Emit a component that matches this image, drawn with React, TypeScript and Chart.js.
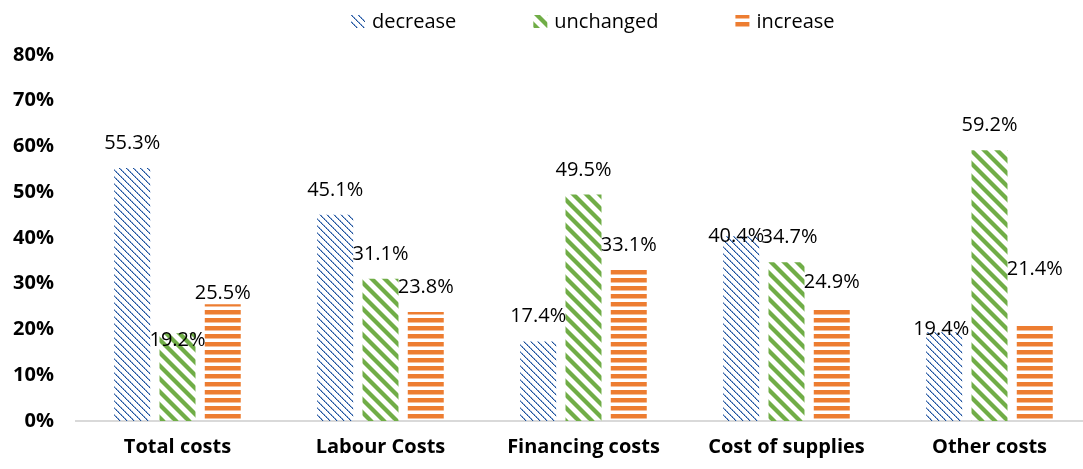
import React, { useEffect, useRef } from 'react';
import { Chart, registerables } from 'chart.js';

Chart.register(...registerables);

const categories = ['Total costs', 'Labour Costs', 'Financing costs', 'Cost of supplies', 'Other costs'];
const seriesNames = ['decrease', 'unchanged', 'increase'];
const decreaseValues = [55.3, 45.1, 17.4, 40.4, 19.4];
const unchangedValues = [19.2, 31.1, 49.5, 34.7, 59.2];
const increaseValues = [25.5, 23.8, 33.1, 24.9, 21.4];
const yTickMax = 80;
const yTickStep = 10;

// nudges (px) of individual data labels, as placed in the original
const labelShiftDecrease = [0, 0, 0, 25, 22];
const labelShiftUnchanged = [32, 0, 0, 0, 0];
const labelShiftIncrease = [14, 0, 0, 0, -29];
const labelShifts = [labelShiftDecrease, labelShiftUnchanged, labelShiftIncrease];
const labelDxDecrease = [0, 0, 0, -5, -3];
const labelDxUnchanged = [0, 0, 0, 3, 0];
const labelDxIncrease = [0, 0, 0, 0, 0];
const labelDx = [labelDxDecrease, labelDxUnchanged, labelDxIncrease];

const FONT = '"Open Sans", "DejaVu Sans", sans-serif';

function makeDecreasePattern(ctx0: CanvasRenderingContext2D) {
  const n = 7;
  const c = document.createElement('canvas');
  c.width = n;
  c.height = n;
  const ctx = c.getContext('2d')!;
  for (let i = 0; i < n; i++) {
    ctx.fillStyle = i % 2 === 0 ? '#1F4E91' : '#3E6DB3';
    ctx.fillRect(i, i, 1, 1);
    ctx.fillStyle = i % 2 === 0 ? '#A9C0E2' : '#7397CD';
    ctx.fillRect((i + 1) % n, i, 1, 1);
  }
  return ctx0.createPattern(c, 'repeat')!;
}

function makeUnchangedPattern(ctx0: CanvasRenderingContext2D) {
  const n = 13;
  const c = document.createElement('canvas');
  c.width = n;
  c.height = n;
  const ctx = c.getContext('2d')!;
  for (let y = 0; y < n; y++) {
    for (let x = 0; x < n; x++) {
      const d = (((x - y) % n) + n) % n;
      if (d < 5) {
        ctx.fillStyle = '#70AD47';
        ctx.fillRect(x, y, 1, 1);
      } else if (d === 5 || d === n - 1) {
        ctx.fillStyle = '#B5D69F';
        ctx.fillRect(x, y, 1, 1);
      }
    }
  }
  return ctx0.createPattern(c, 'repeat')!;
}

function makeIncreasePattern(ctx0: CanvasRenderingContext2D) {
  const c = document.createElement('canvas');
  c.width = 8;
  c.height = 8;
  const ctx = c.getContext('2d')!;
  ctx.fillStyle = '#ED7D31';
  ctx.fillRect(0, 0, 8, 2);
  ctx.fillRect(0, 6, 8, 2);
  ctx.fillStyle = '#F6BE98';
  ctx.fillRect(0, 2, 8, 1);
  return ctx0.createPattern(c, 'repeat')!;
}

const dataLabelPlugin = {
  id: 'dataLabels',
  afterDatasetsDraw(chart: any) {
    const ctx = chart.ctx as CanvasRenderingContext2D;
    ctx.save();
    ctx.font = `20px ${FONT}`;
    ctx.fillStyle = '#000000';
    ctx.textAlign = 'center';
    ctx.textBaseline = 'alphabetic';
    chart.data.datasets.forEach((ds: any, di: number) => {
      const meta = chart.getDatasetMeta(di);
      meta.data.forEach((el: any, i: number) => {
        const v = ds.data[i] as number;
        ctx.fillText(v.toFixed(1) + '%', el.x + labelDx[di][i], el.y - 19 + labelShifts[di][i]);
      });
    });
    ctx.restore();
  },
};

const legendPlugin = {
  id: 'customLegend',
  afterDraw(chart: any) {
    const ctx = chart.ctx as CanvasRenderingContext2D;
    ctx.save();
    ctx.font = `20px ${FONT}`;
    ctx.textAlign = 'left';
    ctx.textBaseline = 'alphabetic';
    let x = 351;
    chart.data.datasets.forEach((ds: any) => {
      ctx.fillStyle = ds.backgroundColor;
      ctx.fillRect(x, 15, 14, 13);
      ctx.fillStyle = '#000000';
      ctx.fillText(ds.label, x + 21, 28);
      x += 21 + ctx.measureText(ds.label).width + 77;
    });
    ctx.restore();
  },
};

export default function App() {
  const canvasRef = useRef<HTMLCanvasElement | null>(null);

  useEffect(() => {
    document.body.style.margin = '0';
    const canvas = canvasRef.current!;
    const ctx = canvas.getContext('2d')!;
    const patterns = [makeDecreasePattern(ctx), makeUnchangedPattern(ctx), makeIncreasePattern(ctx)];
    const seriesValues = [decreaseValues, unchangedValues, increaseValues];

    const chart = new Chart(canvas, {
      type: 'bar',
      data: {
        labels: categories,
        datasets: seriesNames.map((name, i) => ({
          label: name,
          data: seriesValues[i],
          backgroundColor: patterns[i] as any,
          borderWidth: 0,
          categoryPercentage: 0.669,
          barPercentage: 0.795,
        })),
      },
      options: {
        responsive: false,
        animation: false,
        devicePixelRatio: 1,
        layout: { padding: { top: 55, right: 1, left: 0, bottom: 0 } },
        plugins: {
          legend: { display: false },
          tooltip: { enabled: false },
          title: { display: false },
        },
        scales: {
          x: {
            grid: { display: false, drawTicks: false },
            border: { display: true, color: '#D9D9D9', width: 2 },
            ticks: {
              color: '#000000',
              font: { family: FONT, size: 20, weight: 'bold' },
              padding: 14,
              maxRotation: 0,
              autoSkip: false,
            },
            afterFit(scale: any) {
              scale.height = 48;
            },
          },
          y: {
            min: 0,
            max: yTickMax,
            grid: { display: false, drawTicks: false },
            border: { display: false },
            ticks: {
              stepSize: yTickStep,
              color: '#000000',
              font: { family: FONT, size: 20, weight: 'bold' },
              padding: 22,
              callback: (v: any) => `${v}%`,
            },
            afterFit(scale: any) {
              scale.width = 76;
            },
          },
        },
      },
      plugins: [dataLabelPlugin, legendPlugin],
    });
    return () => chart.destroy();
  }, []);

  return (
    <div style={{ width: 1083, height: 469, overflow: 'hidden', background: '#ffffff' }}>
      <canvas ref={canvasRef} width={1092} height={469} style={{ display: 'block' }} />
    </div>
  );
}
